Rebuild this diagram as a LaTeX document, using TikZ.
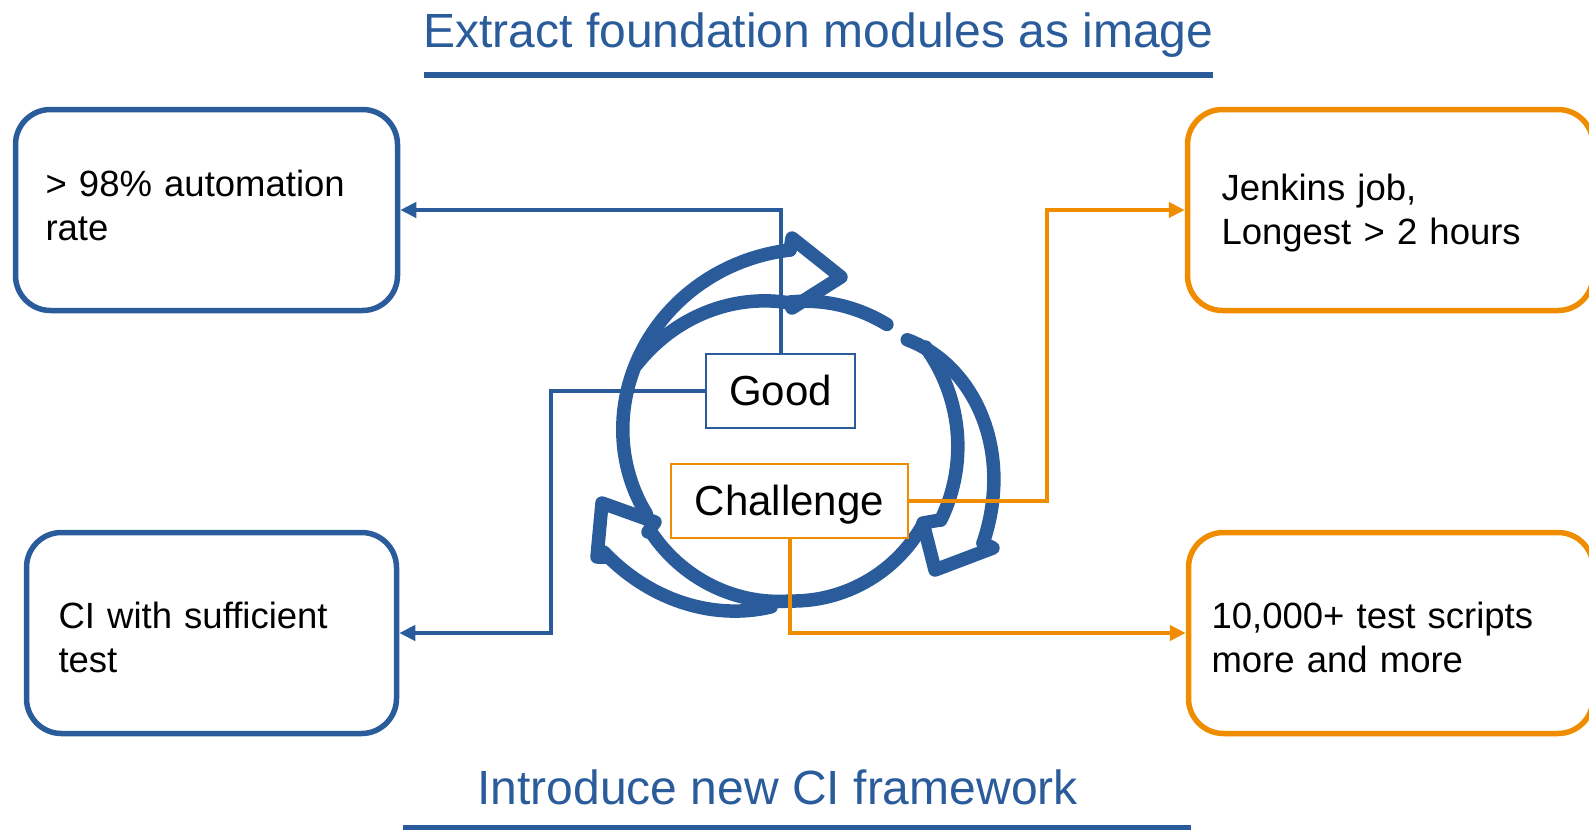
\documentclass[tikz,border=0pt]{standalone}
\usepackage{fontspec}
\setmainfont{Liberation Sans}
\usetikzlibrary{arrows.meta}
\definecolor{cblue}{RGB}{42,92,155}
\definecolor{corange}{RGB}{240,140,0}

\begin{document}
\begin{tikzpicture}[x=1pt,y=-1pt,
    ring/.style={line width=13.5pt,draw=cblue,line cap=round,line join=round},
    item/.style={draw,line width=5.5pt,rounded corners=35pt,minimum height=201pt,
                 align=left,text height=0pt,font=\fontsize{36.5}{44}\selectfont},
    tag/.style={draw,fill=white,line width=1.5pt,minimum height=74pt,
                text height=28pt,text depth=0pt,font=\fontsize{42}{50}\selectfont},
    link/.style={line width=4pt,-{Triangle[length=16pt,width=15pt]}},
    heading/.style={text=cblue,anchor=base west,font=\fontsize{48}{58}\selectfont}]
    \useasboundingbox (0,0) rectangle (1589,830);

    \node[heading] (extract) at (420,47) {Extract foundation modules as image};
    \draw[cblue,line width=6pt] (424,75) -- (1213,75);
    \node[heading] (introduce) at (474,804) {Introduce new CI framework};
    \draw[cblue,line width=5pt] (403,827) -- (1191,827);

    \node[item,draw=cblue,text depth=28pt,text width=322pt,inner xsep=30pt] (rate)
          at (206.5,210) {> 98\% automation\\rate};
    \node[item,draw=cblue,text depth=10pt,text width=306pt,inner xsep=32pt] (ci)
          at (211.5,633) {CI with sufficient\\test};
    \node[item,draw=corange,text depth=20pt,text width=337.5pt,inner xsep=34pt] (jenkins)
          at (1390.25,210) {Jenkins job,\\Longest > 2 hours};
    \node[item,draw=corange,text depth=10pt,text width=358.5pt,inner xsep=23pt] (scripts)
          at (1390.75,633) {10,000+ test scripts\\more and more};

    % the three arrows of the cycle, around (790,453)
    \begin{scope}[shift={(790,453)}]
      \draw[ring] plot[domain=-203:-90,samples=50] (\x:{156+(203+\x)*0.416});
      \draw[ring] plot[domain=-150:-90,samples=30] (\x:{150+(-\x-90)*0.45});
      \draw[ring] plot[domain=-90:-53,samples=20] (\x:{151+(90+\x)*0.27});

      \draw[ring] plot[domain=-270:-209,samples=30] (\x:{148+(270+\x)*0.197});
      \draw[ring] plot[domain=-332:-270,samples=30] (\x:{148+(-\x-270)*0.048});
      \draw[ring] plot[domain=-263:-208,samples=30] (\x:{155+(263+\x)*1.018});

      \draw[ring] plot[domain=-44:25,samples=40]
            (\x:{213-0.4*(25-\x)-22.4*((25-\x)/69)^3});
      \draw[ring] plot[domain=-38:24,samples=30] (\x:{165+(24-\x)*0.113});
    \end{scope}
    \draw[ring] (790,250) -- (792,238) -- (841,277) -- (792,308) -- (790,303);
    \draw[ring] (648,532) -- (655,522) -- (602,503) -- (597,557) -- (607,557);
    \draw[ring] (940,520) -- (923,523) -- (935,570) -- (993,548) -- (983,543);

    \node[tag,draw=cblue,minimum width=149pt] (good) at (780.5,391) {Good};
    \node[tag,draw=corange,minimum width=237pt] (chal) at (789.5,501) {Challenge};

    \draw[link,cblue] (good.north) |- (rate.east);
    \draw[link,cblue] (good.west) -- ++(-154,0) |- (ci.east);
    \draw[link,corange] (chal.east) -- ++(138,0) |- (jenkins.west);
    \draw[link,corange] (chal.south) |- (scripts.west);
\end{tikzpicture}
\end{document}
